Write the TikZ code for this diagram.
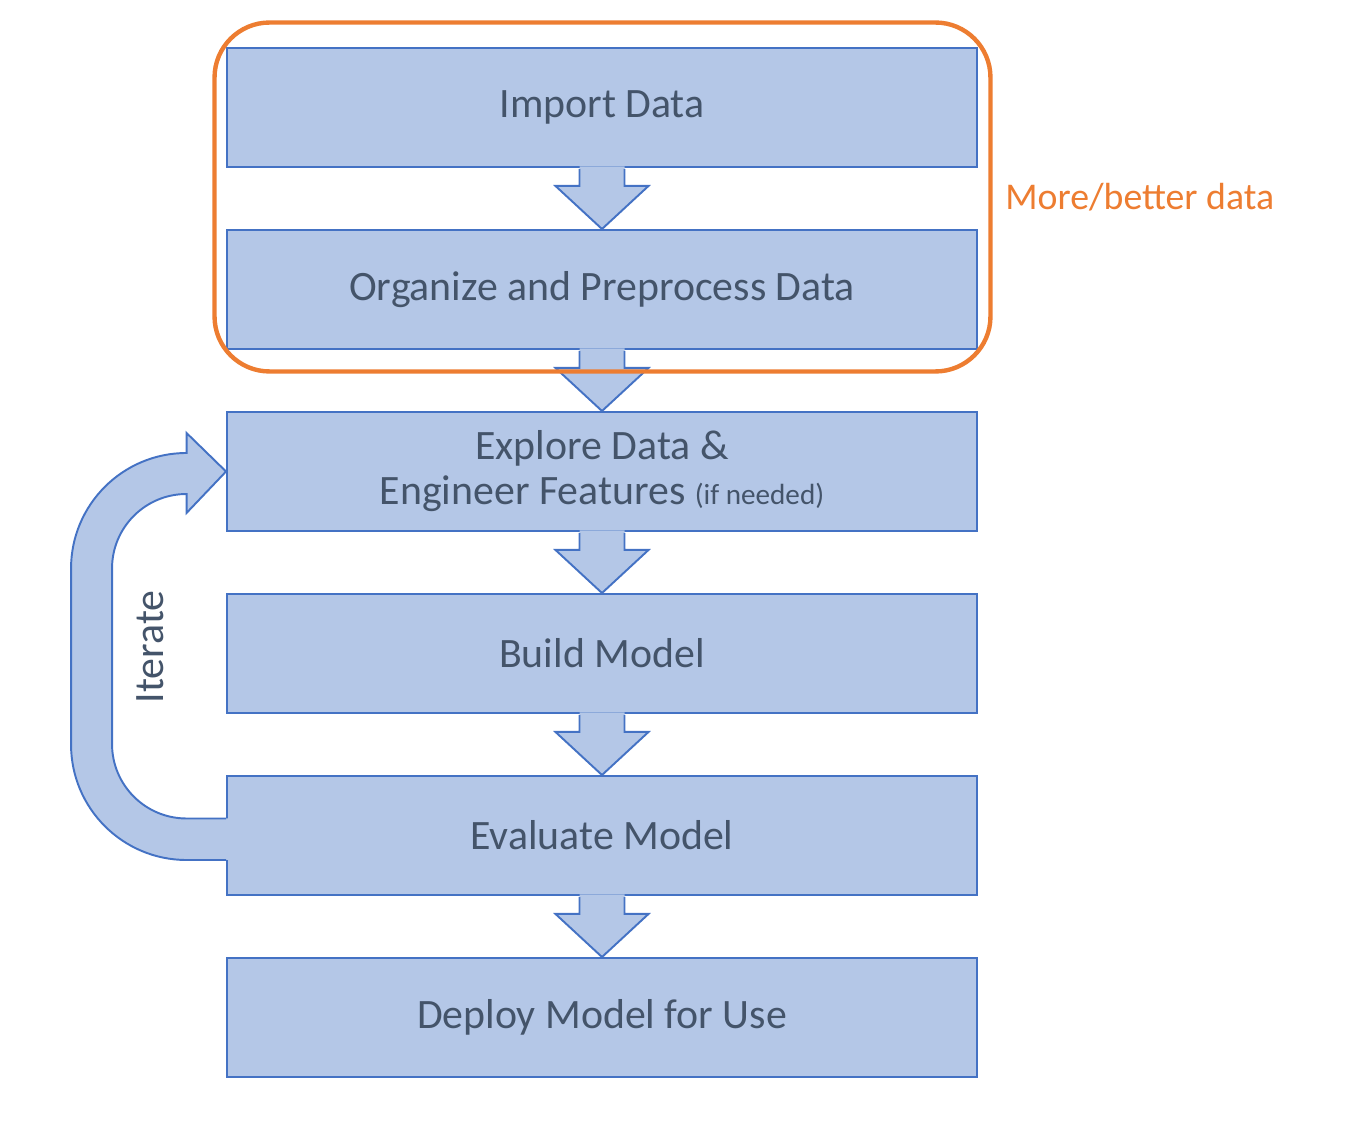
\documentclass[tikz,border=0pt]{standalone}
\usepackage{fontspec}
\setmainfont{Carlito}
\usepackage{tikz}
\usetikzlibrary{positioning, calc}
\definecolor{stepfill}{HTML}{B4C7E7}
\definecolor{stepline}{HTML}{4472C4}
\definecolor{steptext}{HTML}{44546A}
\definecolor{dataorange}{HTML}{ED7D31}

\tikzset{
  stepbox/.style={draw=stepline, fill=stepfill, line width=1.1pt, text=steptext,
                  minimum width=15cm, minimum height=2.38cm, align=center,
                  font=\fontsize{23.8}{25.6}\selectfont},
  flowfill/.style={fill=stepfill},
  flowline/.style={draw=stepline, line width=1.1pt, line join=miter}
}

\begin{document}
\begin{tikzpicture}
  \useasboundingbox (0,0) rectangle (27.44,-22.5);

  \node[stepbox] (imp) at (12.04,-2.15) {Import Data};
  \node[stepbox] (org) at (12.04,-5.79) {Organize and Preprocess Data};
  \node[stepbox] (exp) at (12.04,-9.43)
        {Explore Data \&\\Engineer Features {\fontsize{16.6}{18}\selectfont(if needed)}};
  \node[stepbox] (bld) at (12.04,-13.07) {Build Model};
  \node[stepbox] (ev)  at (12.04,-16.71) {Evaluate Model};
  \node[stepbox] (dep) at (12.04,-20.35) {Deploy Model for Use};

  % block arrows between the steps
  \foreach \a/\b in {imp/org, org/exp, exp/bld, bld/ev, ev/dep} {
    \fill[flowfill] ($(\a.south)+(-0.45,0.03)$) -- ($(\a.south)+(-0.45,-0.36)$)
      -- ($(\a.south)+(-0.93,-0.36)$) -- (\b.north) -- ($(\a.south)+(0.93,-0.36)$)
      -- ($(\a.south)+(0.45,-0.36)$) -- ($(\a.south)+(0.45,0.03)$) -- cycle;
    \draw[flowline] ($(\a.south)+(-0.45,-0.02)$) -- ($(\a.south)+(-0.45,-0.36)$)
      -- ($(\a.south)+(-0.93,-0.36)$) -- (\b.north) -- ($(\a.south)+(0.93,-0.36)$)
      -- ($(\a.south)+(0.45,-0.36)$) -- ($(\a.south)+(0.45,-0.02)$);
  }

  % iterate loop
  \fill[flowfill] ($(ev.west)+(0.04,-0.49)$) -- ++(-0.83,0)
    arc[start angle=270, end angle=180, radius=2.31] -- ++(0,3.52)
    arc[start angle=180, end angle=90, radius=2.31] -- ++(0,0.4)
    -- (exp.west) -- ++(-0.79,-0.83) -- ++(0,0.38)
    arc[start angle=90, end angle=180, radius=1.49] -- ++(0,-3.51)
    arc[start angle=180, end angle=270, radius=1.49] -- ++(0.83,0) -- cycle;
  \draw[flowline] ($(ev.west)+(0,-0.49)$) -- ++(-0.79,0)
    arc[start angle=270, end angle=180, radius=2.31] -- ++(0,3.52)
    arc[start angle=180, end angle=90, radius=2.31] -- ++(0,0.4)
    -- (exp.west) -- ++(-0.79,-0.83) -- ++(0,0.38)
    arc[start angle=90, end angle=180, radius=1.49] -- ++(0,-3.51)
    arc[start angle=180, end angle=270, radius=1.49] -- ++(0.79,0);
  \node[text=steptext, rotate=90, font=\fontsize{23.8}{26}\selectfont] (iter) at (3.0,-12.94) {Iterate};

  % data group
  \draw[dataorange, line width=2.5pt, rounded corners=1.1cm]
    ($(imp.north west)+(-0.23,0.49)$) rectangle ($(org.south east)+(0.25,-0.43)$);
  \node[text=dataorange, anchor=west, font=\fontsize{21.5}{26}\selectfont, inner sep=0pt]
    (more) at (20.1,-3.94) {More/better data};
\end{tikzpicture}
\end{document}
